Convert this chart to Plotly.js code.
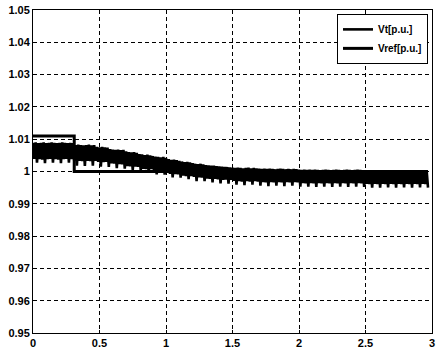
<!DOCTYPE html>
<html>
<head>
<meta charset="utf-8">
<script src="https://cdn.plot.ly/plotly-3.0.1.min.js"></script>
<style>html,body{margin:0;padding:0;background:#fff;}#chart{width:436px;height:357px;}</style>
</head>
<body>
<div id="chart"></div>
<script>
// sampling of the Vt record (s)
const vtStart = 0;
const vtStep = 0.01;
// Vt [p.u.], one sample per 0.01 s
const vtValues = [
1.0089,1.0039,1.0090,1.0027,1.0088,1.0038,1.0089,1.0037,1.0090,1.0026,
1.0088,1.0038,1.0089,1.0039,1.0090,1.0027,1.0089,1.0038,1.0088,1.0037,
1.0089,1.0026,1.0090,1.0038,1.0089,1.0039,1.0088,1.0027,1.0089,1.0038,
1.0088,1.0033,1.0082,1.0018,1.0083,1.0033,1.0082,1.0032,1.0081,1.0017,
1.0082,1.0033,1.0083,1.0032,1.0081,1.0018,1.0082,1.0033,1.0076,1.0030,
1.0075,1.0015,1.0076,1.0029,1.0075,1.0030,1.0074,1.0014,1.0069,1.0025,
1.0068,1.0024,1.0067,1.0010,1.0068,1.0023,1.0066,1.0022,1.0067,1.0009,
1.0062,1.0017,1.0060,1.0016,1.0059,1.0004,1.0060,1.0015,1.0058,1.0014,
1.0054,1.0003,1.0053,1.0008,1.0051,1.0007,1.0052,0.9997,1.0050,1.0007,
1.0048,1.0001,1.0046,0.9991,1.0045,1.0000,1.0044,0.9999,1.0045,0.9990,
1.0042,0.9996,1.0038,0.9993,1.0036,0.9982,1.0037,0.9992,1.0035,0.9991,
1.0033,0.9981,1.0031,0.9987,1.0029,0.9986,1.0030,0.9976,1.0028,0.9986,
1.0026,0.9983,1.0024,0.9970,1.0023,0.9982,1.0024,0.9981,1.0022,0.9970,
1.0020,0.9978,1.0019,0.9977,1.0018,0.9966,1.0018,0.9977,1.0017,0.9976,
1.0016,0.9963,1.0015,0.9974,1.0014,0.9975,1.0014,0.9962,1.0013,0.9974,
1.0012,0.9971,1.0011,0.9959,1.0012,0.9970,1.0011,0.9969,1.0010,0.9958,
1.0011,0.9970,1.0012,0.9969,1.0010,0.9959,1.0011,0.9970,1.0010,0.9969,
1.0009,0.9956,1.0008,0.9967,1.0009,0.9966,1.0008,0.9955,1.0009,0.9967,
1.0008,0.9966,1.0007,0.9956,1.0008,0.9967,1.0009,0.9966,1.0008,0.9955,
1.0007,0.9967,1.0008,0.9966,1.0007,0.9956,1.0008,0.9967,1.0007,0.9966,
1.0006,0.9953,1.0005,0.9964,1.0006,0.9963,1.0005,0.9953,1.0006,0.9964,
1.0005,0.9963,1.0006,0.9952,1.0005,0.9964,1.0004,0.9963,1.0005,0.9953,
1.0006,0.9964,1.0005,0.9963,1.0004,0.9952,1.0005,0.9964,1.0006,0.9963,
1.0005,0.9953,1.0004,0.9964,1.0005,0.9963,1.0006,0.9952,1.0005,0.9964,
1.0004,0.9963,1.0005,0.9953,1.0006,0.9964,1.0005,0.9963,1.0004,0.9952,
1.0003,0.9962,1.0004,0.9961,1.0003,0.9950,1.0002,0.9962,1.0003,0.9961,
1.0004,0.9950,1.0003,0.9962,1.0002,0.9961,1.0003,0.9951,1.0004,0.9962,
1.0003,0.9961,1.0002,0.9950,1.0003,0.9962,1.0004,0.9961,1.0003,0.9951,
1.0002,0.9962,1.0003,0.9961,1.0004,0.9950,1.0003,0.9962,1.0002,0.9961,
1.0003,0.9951,1.0004,0.9962,1.0003,0.9961,1.0002,0.9950
];
// Vref [p.u.] step
const vrefTime = [0, 0.31, 0.31, 2.97];
const vrefValues = [1.011, 1.011, 1.0, 1.0];

const seriesNames = ['<b>Vt[p.u.]</b>', '<b>Vref[p.u.]</b>'];
const xTickVals = [0, 0.5, 1, 1.5, 2, 2.5, 3];
const xTickText = ['<b>0</b>', '<b>0.5</b>', '<b>1</b>', '<b>1.5</b>', '<b>2</b>', '<b>2.5</b>', '<b>3</b>'];
const yTickVals = [0.95, 0.96, 0.97, 0.98, 0.99, 1, 1.01, 1.02, 1.03, 1.04, 1.05];
const yTickText = ['<b>0.95</b>', '<b>0.96</b>', '<b>0.97</b>', '<b>0.98</b>', '<b>0.99</b>', '<b>1</b>', '<b>1.01</b>', '<b>1.02</b>', '<b>1.03</b>', '<b>1.04</b>', '<b>1.05</b>'];

const tickFont = {family: 'Arial, Liberation Sans, sans-serif', size: 11, color: '#000'};

const traces = [
  {
    type: 'scatter', mode: 'lines', name: seriesNames[0],
    x0: vtStart, dx: vtStep, y: vtValues,
    line: {color: '#000', width: 2.6, simplify: false}
  },
  {
    type: 'scatter', mode: 'lines', name: seriesNames[1],
    x: vrefTime, y: vrefValues,
    line: {color: '#000', width: 3, simplify: false}
  }
];

const axisCommon = {
  showline: true, mirror: true, linecolor: '#000', linewidth: 1,
  showgrid: true, gridcolor: '#000', gridwidth: 1, griddash: '4px,3px',
  zeroline: false, ticks: 'inside', ticklen: 3, tickcolor: '#000',
  tickfont: tickFont, tickmode: 'array'
};

const layout = {
  width: 436, height: 357,
  margin: {l: 33, r: 4, t: 10, b: 24, pad: 0},
  paper_bgcolor: '#fff', plot_bgcolor: '#fff',
  showlegend: true,
  legend: {
    x: 0.99, y: 0.988, xanchor: 'right', yanchor: 'top',
    bgcolor: '#fff', bordercolor: '#000', borderwidth: 1,
    font: {family: 'Arial, Liberation Sans, sans-serif', size: 10, color: '#000'},
    tracegroupgap: 0, itemwidth: 30
  },
  xaxis: Object.assign({}, axisCommon, {range: [0, 3], tickvals: xTickVals, ticktext: xTickText}),
  yaxis: Object.assign({}, axisCommon, {range: [0.95, 1.05], tickvals: yTickVals, ticktext: yTickText})
};

Plotly.newPlot('chart', traces, layout, {staticPlot: true, displayModeBar: false});
</script>
</body>
</html>
